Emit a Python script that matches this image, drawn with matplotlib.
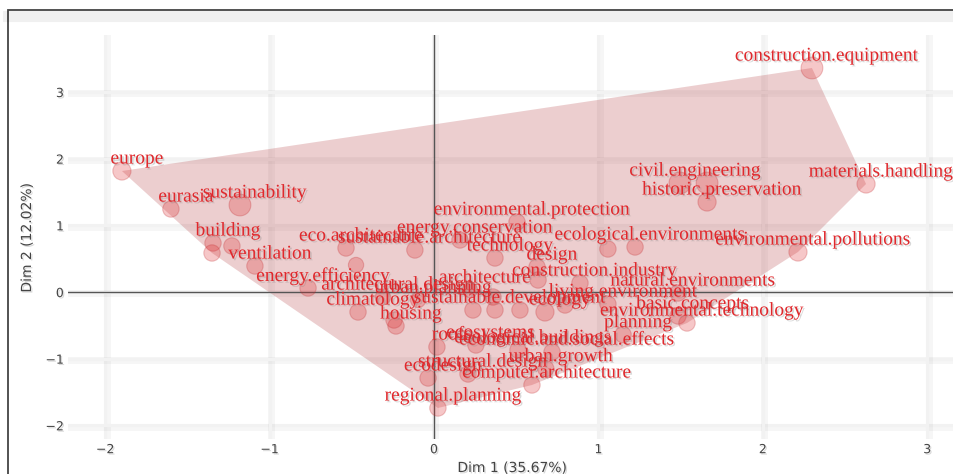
import numpy as np
import matplotlib.pyplot as plt
import matplotlib.patheffects as pe
from matplotlib.patches import Polygon, Rectangle
from matplotlib.lines import Line2D

# keyword coordinates on the first two dimensions ("" = point without a label)
labels = [
    "europe", "eurasia", "sustainability", "building", "", "",
    "ventilation", "energy.efficiency", "eco.architecture", "",
    "sustainable.architecture", "climatology", "housing", "",
    "architectural.design", "urban.planning", "energy.conservation",
    "environmental.protection", "technology", "design", "", "architecture",
    "construction.industry", "ecological.environments", "",
    "environmental.pollutions", "natural.environments", "living.environment",
    "sustainable.development", "", "", "", "ecology", "",
    "basic.concepts", "environmental.technology", "planning", "ecosystems",
    "roofs", "ecological.buildings", "economic.and.social.effects",
    "structural.design", "ecodesign", "urban.growth", "computer.architecture",
    "regional.planning", "civil.engineering", "", "historic.preservation",
    "materials.handling", "construction.equipment",
]
dim1 = [
    -1.898, -1.600, -1.180, -1.344, -1.350, -1.229,
    -1.089, -0.766, -0.535, -0.474,
    -0.116, -0.462, -0.231, -0.243,
    -0.310, -0.097, 0.158,
    0.505, 0.371, 0.627, 0.633, 0.219,
    0.888, 1.223, 1.058,
    2.214, 1.484, 1.058,
    0.371, 0.237, 0.359, 0.523, 0.675, 0.797,
    1.484, 1.539, 1.150, 0.255,
    0.018, 0.511, 0.718,
    0.207, -0.036, 0.680, 0.596,
    0.024, 1.496, 1.661, 1.661,
    2.628, 2.299,
]
dim2 = [
    1.815, 1.245, 1.305, 0.735, 0.585, 0.690,
    0.390, 0.060, 0.660, 0.405,
    0.630, -0.300, -0.510, -0.420,
    -0.075, -0.120, 0.780,
    1.050, 0.510, 0.375, 0.180, 0.030,
    0.135, 0.675, 0.645,
    0.600, -0.015, -0.180,
    -0.270, -0.270, -0.075, -0.270, -0.300, -0.195,
    -0.360, -0.465, -0.640, -0.795,
    -0.825, -0.870, -0.900,
    -1.230, -1.290, -1.150, -1.395,
    -1.740, 1.635, 1.635, 1.350,
    1.620, 3.360,
]
contrib = [
    2.0, 1.5, 3.0, 1.5, 1.5, 1.5,
    1.5, 1.5, 1.5, 1.2,
    1.5, 1.5, 1.5, 1.5,
    1.2, 1.2, 1.5,
    1.5, 1.5, 1.5, 1.5, 1.2,
    1.5, 1.5, 1.5,
    2.0, 1.5, 1.5,
    1.5, 1.5, 1.5, 1.5, 2.0, 1.5,
    1.5, 1.5, 1.5, 1.5,
    1.5, 1.5, 1.5,
    1.5, 1.5, 1.5, 1.5,
    1.5, 3.0, 3.0, 2.0,
    2.0, 3.0,
]
xlab = "Dim 1 (35.67%)"
ylab = "Dim 2 (12.02%)"
ticks = [-2, -1, 0, 1, 2, 3]

red = "#e0282c"
x = np.array(dim1)
y = np.array(dim2)


def convex_hull(px, py):
    pts = sorted(set(zip(px, py)))

    def cross(o, a, b):
        return (a[0] - o[0]) * (b[1] - o[1]) - (a[1] - o[1]) * (b[0] - o[0])

    lower, upper = [], []
    for p in pts:
        while len(lower) >= 2 and cross(lower[-2], lower[-1], p) <= 0:
            lower.pop()
        lower.append(p)
    for p in reversed(pts):
        while len(upper) >= 2 and cross(upper[-2], upper[-1], p) <= 0:
            upper.pop()
        upper.append(p)
    return np.array(lower[:-1] + upper[:-1])


W, H = 954, 474
fig = plt.figure(figsize=(W / 100, H / 100), dpi=100)
ax = fig.add_axes([68 / W, 1 - 439 / H, (W - 68) / W, (439 - 35) / H])
ax.set_xlim(-2.226, 3.163)
ax.set_ylim(-2.205, 3.855)
for s in ax.spines.values():
    s.set_visible(False)

# soft grid
grid_fx = [pe.SimpleLineShadow(offset=(1, -1), shadow_color="gray", alpha=0.07, linewidth=5),
           pe.Normal()]
for t in ticks:
    ax.axvline(t, color="#f2f2f2", lw=2.2, zorder=0, path_effects=grid_fx)
    ax.axhline(t, color="#f2f2f2", lw=2.2, zorder=0, path_effects=grid_fx)
ax.axvline(0, color="#555555", lw=1.0, zorder=2)
ax.axhline(0, color="#555555", lw=1.0, zorder=2)

hull = convex_hull(x, y)
ax.add_patch(Polygon(hull, closed=True, facecolor="#b03438", alpha=0.24,
                     edgecolor="none", zorder=1))

sizes = (2 * (5.5 + 1.8 * np.array(contrib)) * 0.72) ** 2
ax.scatter(x, y, s=sizes, facecolor=red, alpha=0.26, edgecolor="#c0262a",
           linewidth=0.8, zorder=3)

txt_fx = [pe.withSimplePatchShadow(offset=(1.2, -1.2), shadow_rgbFace="gray", alpha=0.3)]
for lab, xi, yi in zip(labels, x, y):
    if not lab:
        continue
    ax.annotate(lab, (xi, yi), xytext=(10.8, 8.6), textcoords="offset points",
                ha="center", va="center", color=red, fontsize=14,
                family="Liberation Serif", zorder=4, path_effects=txt_fx)

tick_fx = [pe.withSimplePatchShadow(offset=(1, -1), shadow_rgbFace="gray", alpha=0.3)]
ax.set_xticks(ticks)
ax.set_yticks(ticks)
ax.set_xticklabels(["\u22122", "\u22121", "0", "1", "2", "3"])
ax.set_yticklabels(["\u22122", "\u22121", "0", "1", "2", "3"])
ax.tick_params(length=0, labelsize=9, labelcolor="#444444", pad=3)
for lbl in ax.get_xticklabels() + ax.get_yticklabels():
    lbl.set_path_effects(tick_fx)

fig.text(512 / W, 1 - 468 / H, xlab, ha="center", va="center", fontsize=10,
         color="#444444", path_effects=tick_fx)
fig.text(27 / W, 1 - 238 / H, ylab, ha="center", va="center", rotation=90,
         fontsize=10, color="#444444", path_effects=tick_fx)

# outer frame (continues past the right and bottom edges)
fig.add_artist(Line2D([8 / W, 1.05], [1 - 16 / H, 1 - 16 / H], color="#000000",
                      alpha=0.06, lw=8, transform=fig.transFigure))
fig.add_artist(Rectangle((8 / W, -0.2), 1.2, 1.2 + (1 - 10 / H) - 1, fill=False,
                         edgecolor="#444444", lw=1.3, transform=fig.transFigure))

fig.savefig("out.png", dpi=100)
